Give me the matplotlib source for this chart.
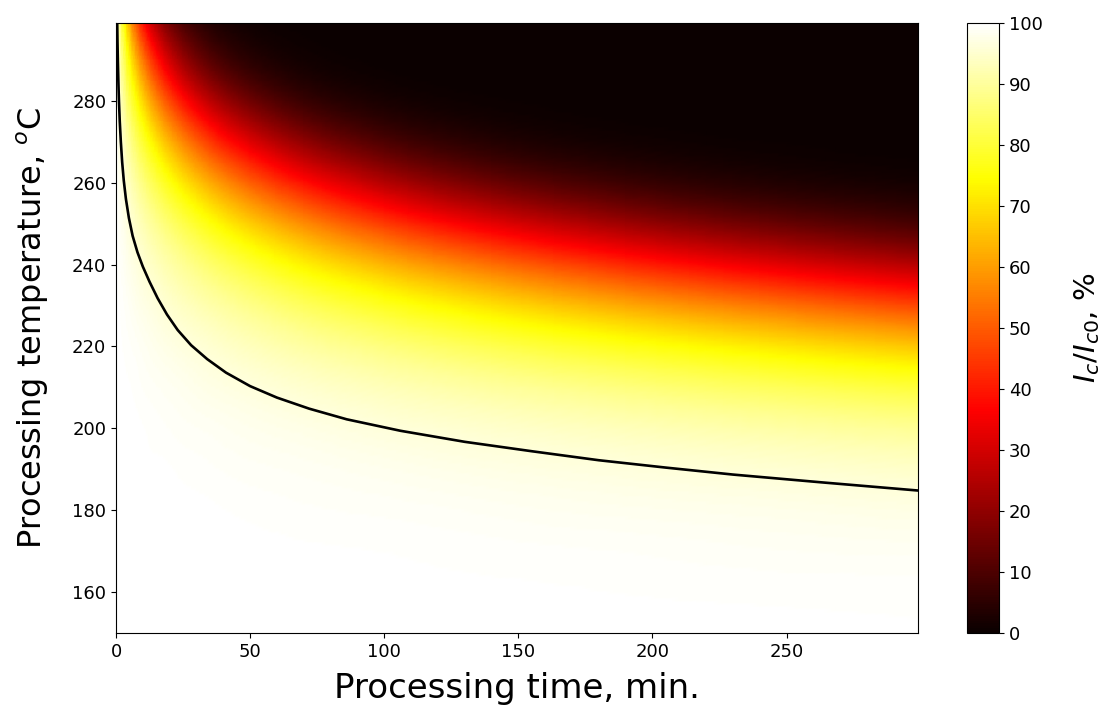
import numpy as np
import matplotlib
matplotlib.use("Agg")
import matplotlib.pyplot as plt
import matplotlib.tri as mtri

# processing time grid (min) and temperature grid (deg C)
times = [0, 1, 2, 4, 6, 9, 13, 18, 25, 35, 50, 70, 100, 140, 190, 240, 299]
temps = [150, 160, 170, 180, 190, 200, 210, 220, 230, 240, 250, 260, 270, 280, 290, 299]

ic_150 = [100, 100, 100, 100, 100, 100, 100, 100, 100, 100, 100, 99.9, 99.9, 99.9, 99.8, 99.8, 99.7]
ic_160 = [100, 100, 100, 100, 100, 100, 100, 100, 99.9, 99.9, 99.9, 99.9, 99.8, 99.7, 99.6, 99.5, 99.4]
ic_170 = [100, 100, 100, 100, 100, 100, 99.9, 99.9, 99.9, 99.8, 99.8, 99.7, 99.6, 99.4, 99.2, 98.9, 98.7]
ic_180 = [100, 100, 100, 100, 99.9, 99.9, 99.9, 99.8, 99.8, 99.7, 99.5, 99.3, 99.1, 98.7, 98.2, 97.8, 97.2]
ic_190 = [100, 100, 100, 99.9, 99.9, 99.8, 99.7, 99.7, 99.5, 99.3, 99.0, 98.7, 98.1, 97.3, 96.4, 95.5, 94.4]
ic_200 = [100, 100, 99.9, 99.8, 99.8, 99.7, 99.5, 99.3, 99.0, 98.7, 98.1, 97.4, 96.2, 94.8, 93.0, 91.2, 89.2]
ic_210 = [100, 99.9, 99.9, 99.7, 99.6, 99.3, 99.0, 98.7, 98.2, 97.4, 96.4, 95.0, 92.9, 90.2, 86.9, 83.7, 80.2]
ic_220 = [100, 99.9, 99.7, 99.4, 99.2, 98.8, 98.2, 97.5, 96.6, 95.3, 93.3, 90.7, 87.0, 82.3, 76.8, 71.7, 66.1]
ic_230 = [100, 99.7, 99.5, 99.0, 98.5, 97.7, 96.8, 95.5, 93.8, 91.5, 88.1, 83.7, 77.6, 70.1, 61.7, 54.4, 46.8]
ic_240 = [100, 99.5, 99.1, 98.2, 97.3, 96.0, 94.3, 92.2, 89.3, 85.3, 79.7, 72.8, 63.5, 53.0, 42.2, 33.6, 25.7]
ic_250 = [100, 99.2, 98.4, 96.9, 95.3, 93.1, 90.2, 86.7, 82.0, 75.7, 67.2, 57.4, 45.2, 32.9, 22.1, 14.9, 9.3]
ic_260 = [100, 98.7, 97.3, 94.7, 92.2, 88.5, 83.8, 78.3, 71.2, 62.2, 50.7, 38.7, 25.7, 14.9, 7.6, 3.8, 1.7]
ic_270 = [100, 97.7, 95.5, 91.3, 87.2, 81.4, 74.3, 66.3, 56.6, 45.0, 32.0, 20.3, 10.2, 4.1, 1.3, 0.4, 0.1]
ic_280 = [100, 96.3, 92.8, 86.0, 79.8, 71.3, 61.3, 50.8, 39.1, 26.8, 15.3, 7.2, 2.3, 0.5, 0.1, 0.0, 0.0]
ic_290 = [100, 94.1, 88.6, 78.4, 69.4, 57.9, 45.4, 33.5, 21.9, 11.9, 4.8, 1.4, 0.2, 0.0, 0.0, 0.0, 0.0]
ic_299 = [100, 91.2, 83.1, 69.1, 57.4, 43.5, 30.0, 18.9, 9.9, 3.9, 1.0, 0.2, 0.0, 0.0, 0.0, 0.0, 0.0]

# black iso-line (time, temperature)
line_t = [0.45, 0.55, 0.7, 0.9, 1.1, 1.4, 1.8, 2.3, 2.9, 3.7, 4.8, 6.2, 8.0, 10.0, 12.5, 15.5,
          19.0, 23.0, 28.0, 34.0, 41.0, 50.0, 60.0, 72.0, 86.0, 106.0, 130.0, 155.0, 180.0,
          205.0, 230.0, 263.0, 299.0]
line_T = [299.0, 294.6, 289.5, 284.3, 280.0, 275.0, 270.0, 265.0, 260.5, 256.0, 251.4, 247.0,
          243.0, 239.5, 235.8, 231.8, 227.8, 224.0, 220.3, 216.9, 213.6, 210.3, 207.5, 204.8,
          202.2, 199.4, 196.7, 194.4, 192.2, 190.4, 188.7, 186.8, 184.8]

x_ticks = [0, 50, 100, 150, 200, 250]
y_ticks = [160, 180, 200, 220, 240, 260, 280]
cb_ticks = [0, 10, 20, 30, 40, 50, 60, 70, 80, 90, 100]

Z = np.array([ic_150, ic_160, ic_170, ic_180, ic_190, ic_200, ic_210, ic_220,
              ic_230, ic_240, ic_250, ic_260, ic_270, ic_280, ic_290, ic_299])
nT, nt = Z.shape

# smooth the read grid with matplotlib's cubic triangle refiner, working in log-time
u = np.log1p(np.asarray(times, float))
UU, YY = np.meshgrid(u, temps)
idx = np.arange(nT * nt).reshape(nT, nt)
a = idx[:-1, :-1].ravel(); b = idx[:-1, 1:].ravel()
c = idx[1:, 1:].ravel(); d = idx[1:, :-1].ravel()
tris = np.vstack([np.column_stack([a, b, c]), np.column_stack([a, c, d])])
tri = mtri.Triangulation(UU.ravel(), (YY.ravel() - 150) / 150 * u.max(), tris)
refiner = mtri.UniformTriRefiner(tri)
tri_f, z_f = refiner.refine_field(Z.ravel(), subdiv=4)
tri_plot = mtri.Triangulation(np.expm1(tri_f.x), tri_f.y / u.max() * 150 + 150, tri_f.triangles)

W, H = 1104, 713
fig = plt.figure(figsize=(W / 100, H / 100), dpi=100)
ax = fig.add_axes([116 / W, (H - 633) / H, (918 - 116) / W, (633 - 23) / H])
cax = fig.add_axes([967 / W, (H - 633) / H, 32 / W, (633 - 23) / H])

mesh = ax.tripcolor(tri_plot, np.clip(z_f, 0, 100), shading='gouraud', cmap='hot',
                    vmin=0, vmax=100)
ax.plot(line_t, line_T, color='black', lw=1.9)

ax.set_xlim(0, 299)
ax.set_ylim(150, 299)
ax.set_xticks(x_ticks)
ax.set_yticks(y_ticks)
ax.tick_params(labelsize=13)
ax.set_xlabel('Processing time, min.', fontsize=24.5, labelpad=8)
ax.set_ylabel('Processing temperature, $^o$C', fontsize=23, labelpad=15)

cb = fig.colorbar(mesh, cax=cax, ticks=cb_ticks)
cb.ax.tick_params(labelsize=13)
cb.set_label('$I_c/I_{c0}$, %', fontsize=21, labelpad=21)

fig.savefig('out.png', dpi=100)
